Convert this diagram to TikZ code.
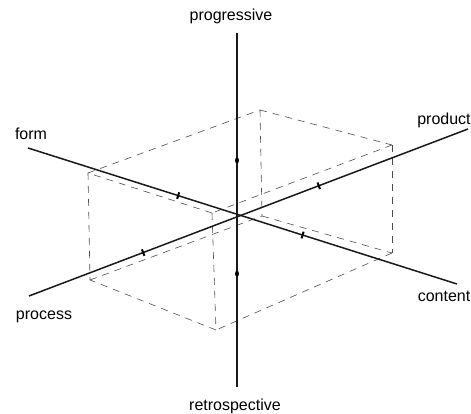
\documentclass[tikz,border=0pt]{standalone}
\usepackage{fontspec}
\setmainfont{Liberation Sans}
\usetikzlibrary{positioning,shapes.geometric}

\begin{document}
\begin{tikzpicture}[x=1pt, y=1pt, font=\fontsize{16}{19}\selectfont,
    every node/.style={inner sep=0pt},
    axis/.style={line width=1.5pt, black!90},
    boxedge/.style={black!70, line width=0.6pt, dash pattern=on 7pt off 6pt},
    tickmark/.style={fill=black, minimum width=2pt, minimum height=7pt, sloped},
    axisdot/.style={fill=black, ellipse, minimum width=4pt, minimum height=6pt}]
    \useasboundingbox (0,0) rectangle (471,414);
    % free ends of the three axes
    \coordinate (top) at (237,381);
    \coordinate (bottom) at (237,27);
    \coordinate (form) at (28,266);
    \coordinate (content) at (457,130);
    \coordinate (process) at (29,118);
    \coordinate (product) at (468,285);
    % labels
    \node (lprogressive) at (231,398) {progressive};
    \node (lretrospective) at (235,8) {retrospective};
    \node (lform) at (31,280) {form};
    \node (lcontent) at (444,118) {content};
    \node (lprocess) at (44,97) {process};
    \node (lproduct) at (444,294) {product};
    % corners of the dashed box
    \foreach \n/\x/\y in {tl/88/241, tb/260/304, tr/392/269, tf/212/201,
                          bl/90/134, bb/262/198, br/392/161, bf/216/84}
      \coordinate (\n) at (\x,\y);
    \foreach \a/\b in {tl/tb, tb/tr, tr/tf, tf/tl, bl/bb, bb/br, br/bf, bf/bl,
                       tl/bl, tb/bb, tr/br, tf/bf}
      \draw[boxedge] (\a) -- (\b);
    % axes with their marks
    \draw[axis] (top) -- (bottom)
      node[axisdot, pos=0.36] {} node[axisdot, pos=0.68] {};
    \draw[axis] (form) -- (content)
      node[tickmark, pos=0.35] {} node[tickmark, pos=0.64] {};
    \draw[axis] (process) -- (product)
      node[tickmark, pos=0.26] {} node[tickmark, pos=0.66] {};
  \end{tikzpicture}
\end{document}
